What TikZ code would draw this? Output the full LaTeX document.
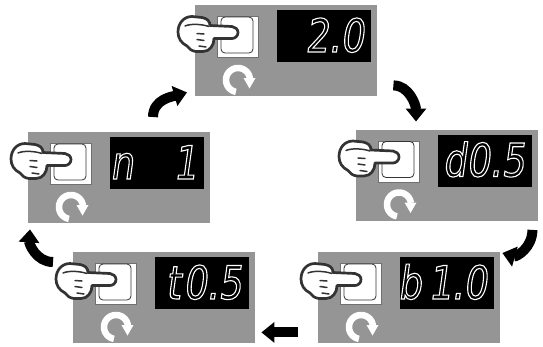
\documentclass[tikz,border=0pt]{standalone}
\usepackage{fontspec}
\usetikzlibrary{arrows.meta,calc}
\newfontfamily\segfont[FakeSlant=0.14,FakeStretch=0.8]{DejaVu Sans}
\newcommand\segtext[1]{\special{pdf:code 1 Tr 1.1 w}#1\special{pdf:code 0 Tr}}
\definecolor{panelgray}{HTML}{959595}
\definecolor{handline}{HTML}{333333}
\tikzset{
  x=1pt,y=-1pt,
  panelbox/.style={draw=none,fill=panelgray,minimum width=182pt,minimum height=91pt,inner sep=0pt,anchor=north west},
  dispbox/.style={fill=black,draw=none,minimum width=94pt,minimum height=52pt,inner sep=0pt,anchor=north west},
  keybox/.style={fill=white,draw=handline!70,line width=.6pt,minimum width=41pt,minimum height=41pt,inner sep=0pt,anchor=north west},
  keyinner/.style={fill=white,draw=handline,line width=.8pt,rounded corners=4pt},
  handshape/.style={fill=white,draw=handline,line width=2.7pt,line join=round},
  handfold/.style={draw=handline,line width=1.5pt,line cap=round},
  segtxt/.style={text=white,font=\segfont\fontsize{46}{46}\selectfont,inner sep=0pt,anchor=base east},
  flow/.style={draw=black,line width=10pt,-{Triangle[width=20pt,length=13pt]}},
  pics/panel/.style={code={
    \node[panelbox] (-panel) at (0,0) {};
    \node[dispbox] (-disp) at (82,5) {};
    \node[keybox] (-key) at (22,11) {};
    \draw[keyinner] (26,12) rectangle (58,48);
    \node[segtxt] (-text) at (169,47) {\segtext{#1}};
    % rotating arrow
    \draw[white,line width=6.5pt] plot[domain=100:352,samples=40] ({43+12*cos(\x)},{75+12*sin(\x)});
    \fill[white] (48.5,73) -- (60.5,73) -- (54.5,83.5) -- cycle;
    % hand
    \draw[handshape] (43,27.5) .. controls (43,31) and (40,33.5) .. (37,33.5)
      -- (19,33.5) .. controls (19,40) and (15,46.5) .. (8,46.5)
      -- (1,46.5) .. controls (-3,46) and (-6,44) .. (-8,41)
      .. controls (-14,38) and (-17,33) .. (-17,27)
      .. controls (-17,18) and (-11,11.5) .. (-3,11.5)
      -- (7,12.5) .. controls (12,13.5) and (15,16) .. (15,20.5)
      -- (37,21.5) .. controls (40,22) and (43,24) .. (43,27.5) -- cycle;
    \draw[handfold] (-10,21) .. controls (-4,18.5) and (6,19) .. (14,21.5);
    \draw[handfold] (2,28.5) -- (9,29);
    \draw[handfold] (2,34.5) -- (9,35.5);
    \draw[handfold] (4,41) -- (11,42);
  }}
}
\begin{document}
\begin{tikzpicture}
\useasboundingbox (0,0) rectangle (543,346);
\pic (top) at (195,5) {panel={2.0}};
\pic (right) at (356,129.5) {panel={d0.5}};
\pic (br) at (318,252) {panel={b\hspace{7pt}1.0}};
\pic (bl) at (73,252) {panel={t\hspace{3pt}0.5}};
\pic (left) at (28,132) {panel={n\hspace{40pt}1}};
\coordinate (a1) at ($(top-panel.south east)+(16,-11)$);
\coordinate (a2) at ($(right-panel.north west)+(60,-8)$);
\draw[flow] (a1) .. controls +(16,0) and +(0,-16) .. (a2);
\coordinate (b1) at ($(right-panel.south east)+(-6,9)$);
\coordinate (b2) at ($(br-panel.north east)+(2,1)$);
\draw[flow] (b1) .. controls +(0,18) and +(14,4) .. (b2);
\coordinate (c1) at ($(br-panel.south west)+(-20,-11)$);
\coordinate (c2) at ($(bl-panel.south east)+(6,-11)$);
\draw[flow] (c1) -- (c2);
\coordinate (d1) at ($(bl-panel.north west)+(-20,10)$);
\coordinate (d2) at ($(left-panel.south west)+(2,6)$);
\draw[flow] (d1) .. controls +(-17,0) and +(-1,14) .. (d2);
\coordinate (e1) at ($(left-panel.north west)+(125,-15)$);
\coordinate (e2) at ($(top-panel.south west)+(-8,-4)$);
\draw[flow] (e1) .. controls +(0,-18) and +(-14,4) .. (e2);
\end{tikzpicture}
\end{document}
